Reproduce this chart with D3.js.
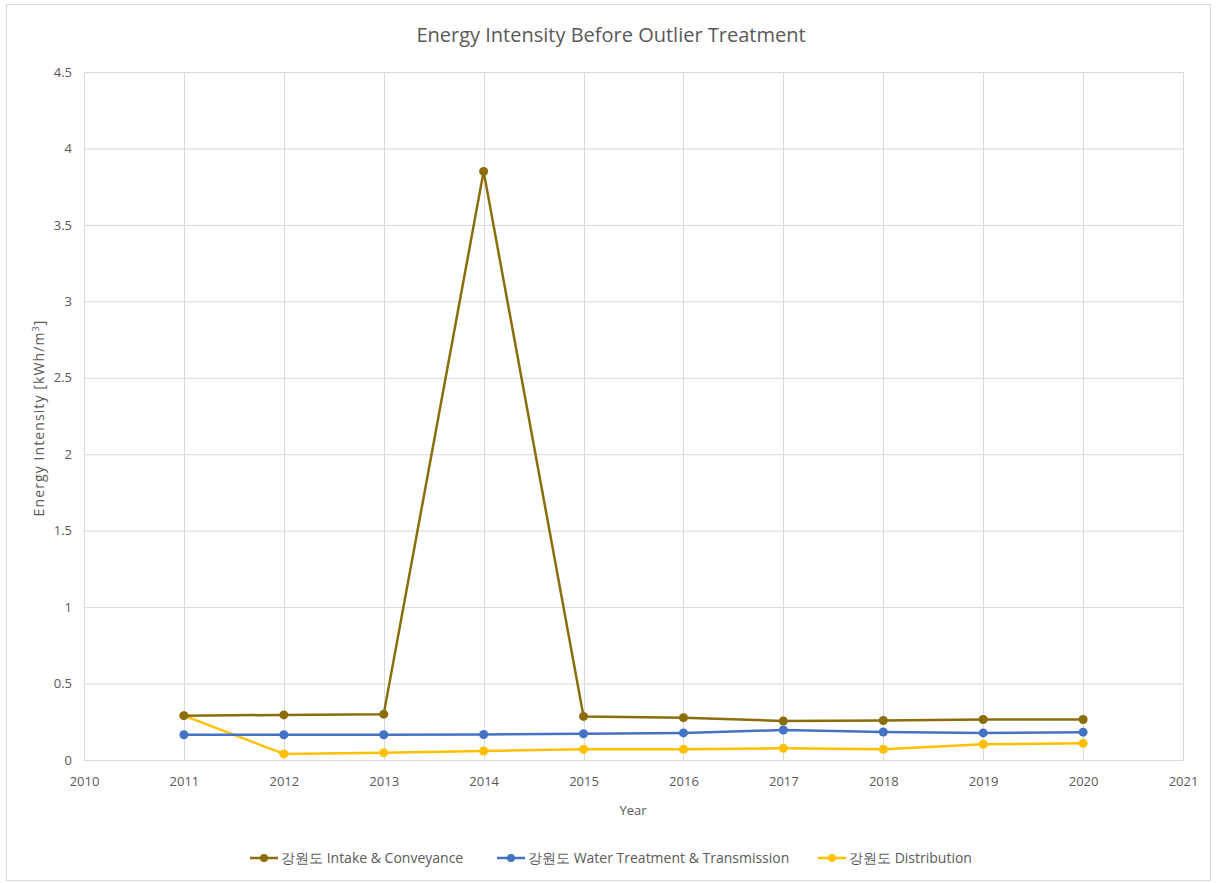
<!DOCTYPE html>
<html><head><meta charset="utf-8">
<script src="https://cdn.jsdelivr.net/npm/d3@7/dist/d3.min.js"></script>
<style>
body{margin:0;background:#fff;}
text{font-family:"Open Sans",sans-serif;fill:#595959;}
</style></head><body>
<svg id="c" width="1216" height="883"></svg>
<script>
const years = [2011,2012,2013,2014,2015,2016,2017,2018,2019,2020];
const intake = [0.29,0.295,0.30,3.85,0.285,0.277,0.255,0.258,0.265,0.265];
const treatment = [0.165,0.165,0.165,0.167,0.172,0.177,0.196,0.183,0.177,0.182];
const distribution = [0.29,0.04,0.048,0.059,0.07,0.07,0.077,0.07,0.103,0.109];
const seriesNames = ["강원도 Intake & Conveyance","강원도 Water Treatment & Transmission","강원도 Distribution"];
const colors = ["#8B6D0B","#4472C4","#FFC000"];
const xTicks = d3.range(2010,2022);
const yTicks = [0,0.5,1,1.5,2,2.5,3,3.5,4,4.5];

const svg = d3.select("#c");
svg.append("rect").attr("x",6.5).attr("y",4.5).attr("width",1204).attr("height",876)
  .attr("fill","#fff").attr("stroke","#d9d9d9");

const L=84,R=1183,T=72,B=760;
const x = d3.scaleLinear().domain([2010,2021]).range([L,R]);
const y = d3.scaleLinear().domain([0,4.5]).range([B,T]);

const g = svg.append("g");
g.selectAll(".hg").data(yTicks).join("line")
  .attr("x1",L).attr("x2",R).attr("y1",d=>y(d)+0.5).attr("y2",d=>y(d)+0.5)
  .attr("stroke","#d9d9d9");
g.selectAll(".vg").data(xTicks).join("line")
  .attr("y1",T).attr("y2",B).attr("x1",d=>Math.round(x(d))+0.5).attr("x2",d=>Math.round(x(d))+0.5)
  .attr("stroke","#d9d9d9");

const yAxis = svg.append("g").attr("transform",`translate(${L},0)`)
  .call(d3.axisLeft(y).tickValues(yTicks).tickSize(0).tickPadding(12).tickFormat(d=>d));
yAxis.select(".domain").remove();
yAxis.selectAll("text").attr("font-size",13).style("fill","#595959");

const xAxis = svg.append("g").attr("transform",`translate(0,${B})`)
  .call(d3.axisBottom(x).tickValues(xTicks).tickSize(0).tickPadding(17).tickFormat(d3.format("d")));
xAxis.select(".domain").attr("stroke","#d9d9d9");
xAxis.selectAll("text").attr("font-size",13).style("fill","#595959");

svg.append("text").attr("x",611).attr("y",42).attr("text-anchor","middle")
  .attr("font-size",20).text("Energy Intensity Before Outlier Treatment");
svg.append("text").attr("x",633).attr("y",815).attr("text-anchor","middle")
  .attr("font-size",13).text("Year");
const yt = svg.append("text").attr("transform","translate(44,418) rotate(-90)").attr("text-anchor","middle")
  .attr("font-size",14).attr("letter-spacing",1.1);
yt.append("tspan").text("Energy  Intensity [kWh/m");
yt.append("tspan").attr("font-size",9).attr("dy",-5).text("3");
yt.append("tspan").attr("dy",5).text("]");

const data = [intake,treatment,distribution];
const line = d3.line().x((d,i)=>x(years[i])).y(d=>y(d));
[2,1,0].forEach(k=>{
  svg.append("path").datum(data[k]).attr("d",line).attr("fill","none")
    .attr("stroke",colors[k]).attr("stroke-width",2.5).attr("stroke-linejoin","round");
  svg.selectAll(".m"+k).data(data[k]).join("circle")
    .attr("cx",(d,i)=>x(years[i])).attr("cy",d=>y(d)).attr("r",4.5).attr("fill",colors[k]);
});

const legX = [250,497,818];
const lg = svg.append("g");
seriesNames.forEach((n,k)=>{
  const gx = legX[k], gy=858;
  lg.append("line").attr("x1",gx).attr("x2",gx+28).attr("y1",gy).attr("y2",gy)
    .attr("stroke",colors[k]).attr("stroke-width",2.5);
  lg.append("circle").attr("cx",gx+14).attr("cy",gy).attr("r",4).attr("fill",colors[k]);
  lg.append("text").attr("x",gx+31).attr("y",gy+5).attr("font-size",14).text(n);
});
</script></body></html>
